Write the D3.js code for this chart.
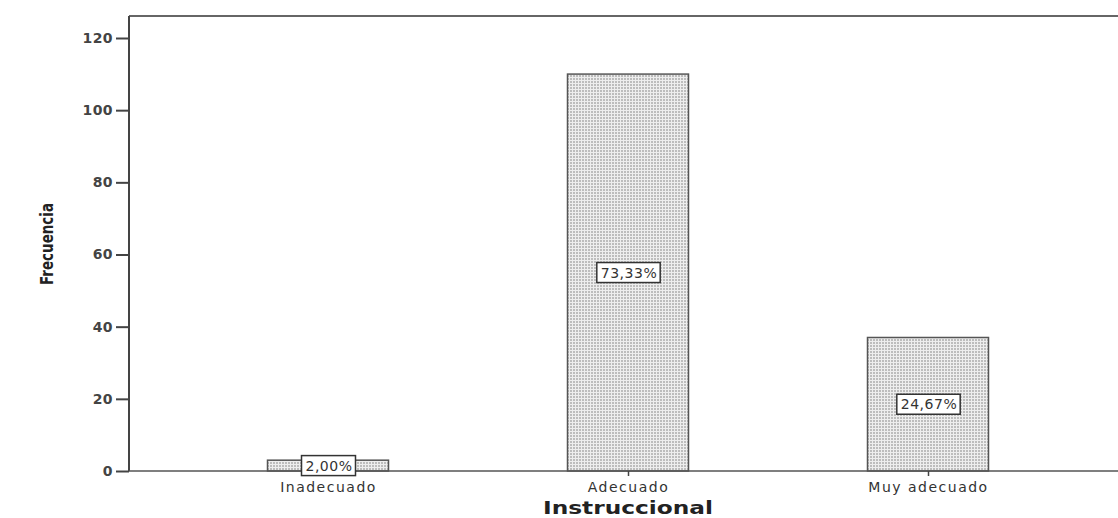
<!DOCTYPE html>
<html><head><meta charset="utf-8">
<script src="https://cdn.jsdelivr.net/npm/d3@7"></script>
<style>body{margin:0;background:#fff;} text{font-family:"DejaVu Sans",Arial,sans-serif;}</style>
</head><body>
<svg id="c" width="1118" height="518"></svg>
<script>
const categories = ["Inadecuado", "Adecuado", "Muy adecuado"];
const frequencies = [3, 110, 37];
const percentLabels = ["2,00%", "73,33%", "24,67%"];
const yTicks = [0, 20, 40, 60, 80, 100, 120];
const xTitle = "Instruccional";
const yTitle = "Frecuencia";

(function () {
const svg = d3.select("#c");
const mLeft = 129, mTop = 16, mRight = 1118, mBottom = 471;
const y = d3.scaleLinear().domain([0, 120]).range([mBottom, 38]);
const x = d3.scalePoint().domain(categories).range([178, 1078]).padding(0.5);
const barW = 121;
const FONT = "'DejaVu Sans',Arial,sans-serif";

const defs = svg.append("defs");
const pat = defs.append("pattern").attr("id", "dots").attr("patternUnits", "userSpaceOnUse")
  .attr("width", 3).attr("height", 3);
pat.append("rect").attr("width", 3).attr("height", 3).attr("fill", "#eeeeee");
pat.append("rect").attr("x", 0).attr("y", 0).attr("width", 2).attr("height", 2).attr("fill", "#bdbdbd");

// frame top line
svg.append("line").attr("x1", mLeft).attr("x2", mRight).attr("y1", mTop).attr("y2", mTop)
  .attr("stroke", "#666").attr("stroke-width", 2);

// bars
svg.selectAll("rect.bar").data(categories).join("rect").attr("class", "bar")
  .attr("x", d => x(d) - barW / 2).attr("width", barW)
  .attr("y", (d, i) => y(frequencies[i])).attr("height", (d, i) => y(0) - y(frequencies[i]))
  .attr("fill", "url(#dots)").attr("stroke", "#555").attr("stroke-width", 1.5);

// y axis
const ya = svg.append("g").attr("transform", `translate(${mLeft},0)`)
  .call(d3.axisLeft(y).tickValues(yTicks).tickSize(13).tickPadding(3));
ya.select(".domain").attr("d", `M0,${mTop}V${mBottom}`).attr("stroke", "#444").attr("stroke-width", 2);
ya.selectAll(".tick line").attr("stroke", "#444").attr("stroke-width", 2);
ya.selectAll(".tick text").attr("font-size", 14).attr("font-weight", "bold").attr("fill", "#444")
  .attr("font-family", FONT).style("letter-spacing", "0.4px");

// x axis
const xa = svg.append("g").attr("transform", `translate(0,${mBottom})`)
  .call(d3.axisBottom(x).tickSize(5).tickPadding(6));
xa.select(".domain").attr("d", `M${mLeft},0H${mRight}`).attr("stroke", "#555").attr("stroke-width", 1.5);
xa.selectAll(".tick line").attr("stroke", "#444").attr("stroke-width", 1.5);
xa.selectAll(".tick text").attr("font-size", 14).attr("fill", "#333")
  .attr("font-family", FONT).style("letter-spacing", "1.5px");

// value labels
categories.forEach((c, i) => {
  const cy = (y(frequencies[i]) + y(0)) / 2;
  const g = svg.append("g");
  const t = g.append("text").attr("x", x(c) + 1).attr("y", cy).attr("text-anchor", "middle")
    .attr("dominant-baseline", "central").attr("font-size", 14).attr("fill", "#333")
    .attr("font-family", FONT).style("letter-spacing", "0.5px").text(percentLabels[i]);
  const bb = t.node().getBBox();
  g.insert("rect", "text").attr("x", bb.x - 4).attr("y", cy - 10).attr("width", bb.width + 7).attr("height", 20)
    .attr("fill", "#fff").attr("stroke", "#333").attr("stroke-width", 1.5);
});

// titles
svg.append("text").attr("x", 628).attr("y", 514).attr("text-anchor", "middle")
  .attr("font-size", 18).attr("font-weight", "bold").attr("fill", "#222").attr("font-family", FONT)
  .attr("textLength", 170).attr("lengthAdjust", "spacingAndGlyphs").text(xTitle);
svg.append("text").attr("transform", "translate(53,244) rotate(-90)").attr("text-anchor", "middle")
  .attr("font-size", 17).attr("font-weight", "bold").attr("fill", "#222")
  .attr("font-family", "'DejaVu Sans Condensed','Liberation Sans Narrow',sans-serif")
  .attr("textLength", 82).attr("lengthAdjust", "spacingAndGlyphs").text(yTitle);
})();
</script>
</body></html>
